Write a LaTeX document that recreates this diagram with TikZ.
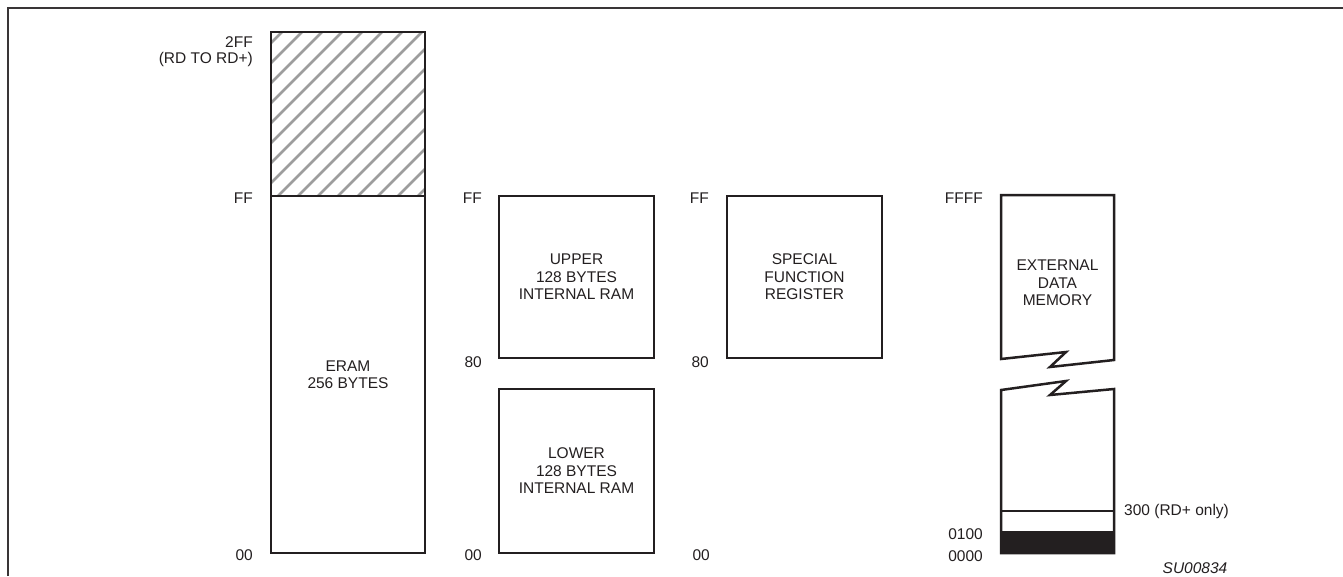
\documentclass[tikz,border=0pt]{standalone}
\usepackage{fontspec}
\setmainfont{Liberation Sans}
\definecolor{ink}{HTML}{231F20}
\definecolor{hatchgray}{HTML}{9D9D9D}

\begin{document}
\begin{tikzpicture}[x=1pt,y=-1pt,
    every node/.style={font=\fontsize{15.5}{17.5}\selectfont, text=ink},
    membox/.style={draw=ink, line width=2.5pt, inner sep=0pt, outer sep=0pt, align=center},
    addr/.style={anchor=east, inner sep=0pt}]
  \useasboundingbox (0,0) rectangle (1343,576);

  % Frame
  \draw[ink!90, line width=2.5pt] (8,576) -- (8,8) -- (1343,8);

  % ERAM column
  \begin{scope}
    \clip (271,32) rectangle (425,196);
    \foreach \k in {-2,...,17}
      \draw[hatchgray, line width=2.5pt] (282+20*\k,32) -- (118+20*\k,196);
  \end{scope}
  \node[membox, minimum width=154, minimum height=164] (rdplus) at (348,114) {};
  \node[membox, minimum width=154, minimum height=357] (eram) at (348,374.5) {ERAM\\256 BYTES};

  \node[addr, anchor=north east, align=right, font=\fontsize{15.5}{16.5}\selectfont] (top2ff) at (253,36) {2FF\\(RD TO RD+)};
  \node[addr] (ffa) at (253,198) {FF};
  \node[addr] (zeroa) at (253,555) {00};

  % Internal RAM column
  \node[membox, minimum width=155, minimum height=162] (upper) at (576.5,277) {UPPER\\128 BYTES\\INTERNAL RAM};
  \node[membox, minimum width=155, minimum height=164] (lower) at (576.5,471) {LOWER\\128 BYTES\\INTERNAL RAM};

  \node[addr] (ffb) at (482,198) {FF};
  \node[addr] (eightyb) at (482,362) {80};
  \node[addr] (zerob) at (482,555) {00};

  % SFR column
  \node[membox, minimum width=155, minimum height=162] (sfr) at (804.5,277) {SPECIAL\\FUNCTION\\REGISTER};

  \node[addr] (ffc) at (709,198) {FF};
  \node[addr] (eightyc) at (709,362) {80};
  \node[addr] (zeroc) at (710,555) {00};

  % External data memory column (broken box)
  \draw[ink, line width=2.5pt, line join=miter]
    (1001,195) -- (1114,195) -- (1114,360) -- (1050,367) -- (1066,352) -- (1001,359) -- cycle;
  \fill[ink] (1001,531) rectangle (1114,553);
  \draw[ink, line width=2.5pt, line join=miter]
    (1001,553) -- (1001,390) -- (1066,381) -- (1050,395) -- (1114,389) -- (1114,553) -- cycle;
  \draw[ink, line width=2pt] (1001,511) -- (1114,511);
  \node[align=center] (extmem) at (1057.5,283) {EXTERNAL\\DATA\\MEMORY};

  \node[addr] (ffff) at (983,198) {FFFF};
  \node[addr] (hundred) at (983,534) {0100};
  \node[addr] (zerod) at (983,556) {0000};
  \node[anchor=west, inner sep=0pt] (rdonly) at (1124,511) {300 (RD+ only)};
  \node[font=\fontsize{15.5}{17.5}\selectfont\itshape] (figid) at (1195,568) {SU00834};
\end{tikzpicture}
\end{document}
